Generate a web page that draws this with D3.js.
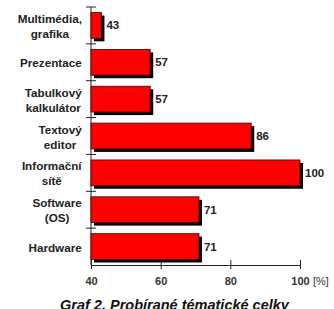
<!DOCTYPE html>
<html>
<head>
<meta charset="utf-8">
<script src="https://cdn.jsdelivr.net/npm/d3@7"></script>
<style>
body { margin: 0; background: #fff; }
text { font-family: "Liberation Sans", Arial, sans-serif; }
</style>
</head>
<body>
<div id="chart"></div>
<script>
// data
var categories = [["Multimédia,", "grafika"], ["Prezentace"], ["Tabulkový", "kalkulátor"], ["Textový", "editor"], ["Informační", "sítě"], ["Software", "(OS)"], ["Hardware"]];
var values = [43, 57, 57, 86, 100, 71, 71];
var xTicks = [40, 60, 80, 100];
var title = "Graf 2. Probírané tématické celky";

var width = 334, height = 309;
var keys = categories.map(d => d.join(" "));

var svg = d3.select("#chart").append("svg")
    .attr("width", width)
    .attr("height", height);

var x = d3.scaleLinear().domain([40, 100]).range([91, 300]);
var y = d3.scaleBand().domain(keys).range([7, 265]).paddingInner(0.3).paddingOuter(0.15);
var step = y.step();

// x axis
var xAxis = d3.axisBottom(x).tickValues(xTicks).tickSize(4).tickPadding(8);
var gx = svg.append("g").attr("transform", "translate(0,265)").call(xAxis);
gx.select(".domain").attr("stroke", "#222");
gx.selectAll(".tick line").attr("y1", -5).attr("y2", 4).attr("stroke", "#222");
gx.selectAll(".tick text")
    .attr("font-size", 11).attr("font-weight", "bold").attr("fill", "#333")
    .style("font-family", "Liberation Sans, Arial, sans-serif");
svg.append("text").attr("x", 313).attr("y", 285)
    .attr("font-size", 11).attr("fill", "#333").attr("text-anchor", "start")
    .text("[%]");

// y axis line + ticks at band edges
svg.append("line").attr("x1", 91).attr("x2", 91).attr("y1", 7).attr("y2", 265).attr("stroke", "#222");
var edges = keys.map(k => y(k) - step * 0.15);
svg.selectAll(".ytick").data(edges).enter().append("line")
    .attr("x1", 86).attr("x2", 96)
    .attr("y1", d => d).attr("y2", d => d)
    .attr("stroke", "#222");

// bars with shadow
var bars = svg.selectAll(".bar").data(keys).enter().append("g");
bars.append("rect")
    .attr("x", x(40) + 3)
    .attr("y", d => y(d) + 3)
    .attr("width", (d, i) => x(values[i]) - x(40))
    .attr("height", y.bandwidth())
    .attr("fill", "#000");
bars.append("rect")
    .attr("x", x(40))
    .attr("y", d => y(d))
    .attr("width", (d, i) => x(values[i]) - x(40))
    .attr("height", y.bandwidth())
    .attr("fill", "#ff0000")
    .attr("stroke", "#400")
    .attr("stroke-width", 0.8);

// value labels
bars.append("text")
    .attr("x", (d, i) => x(values[i]) + 5)
    .attr("y", d => y(d) + y.bandwidth() / 2 + 4)
    .attr("font-size", 11.5).attr("font-weight", "bold").attr("fill", "#222")
    .text((d, i) => values[i]);

// category labels
categories.forEach((lines, i) => {
    var cy = y(keys[i]) + y.bandwidth() / 2 + 1;
    var t = svg.append("text")
        .attr("font-size", 11.7).attr("font-weight", "bold").attr("fill", "#222")
        .attr("text-anchor", "middle");
    lines.forEach((l, j) => {
        t.append("tspan").attr("x", 0)
            .attr("y", cy + (j - (lines.length - 1) / 2) * 15 + 4)
            .text(l);
    });
    var w = t.node().getBBox().width;
    t.selectAll("tspan").attr("x", 82 - w / 2);
});

// title (cut off at the bottom edge as in the original)
svg.append("text").attr("x", 60).attr("y", 310)
    .attr("font-size", 14.5).attr("font-weight", "bold").attr("font-style", "italic")
    .attr("fill", "#111")
    .text(title);
</script>
</body>
</html>
